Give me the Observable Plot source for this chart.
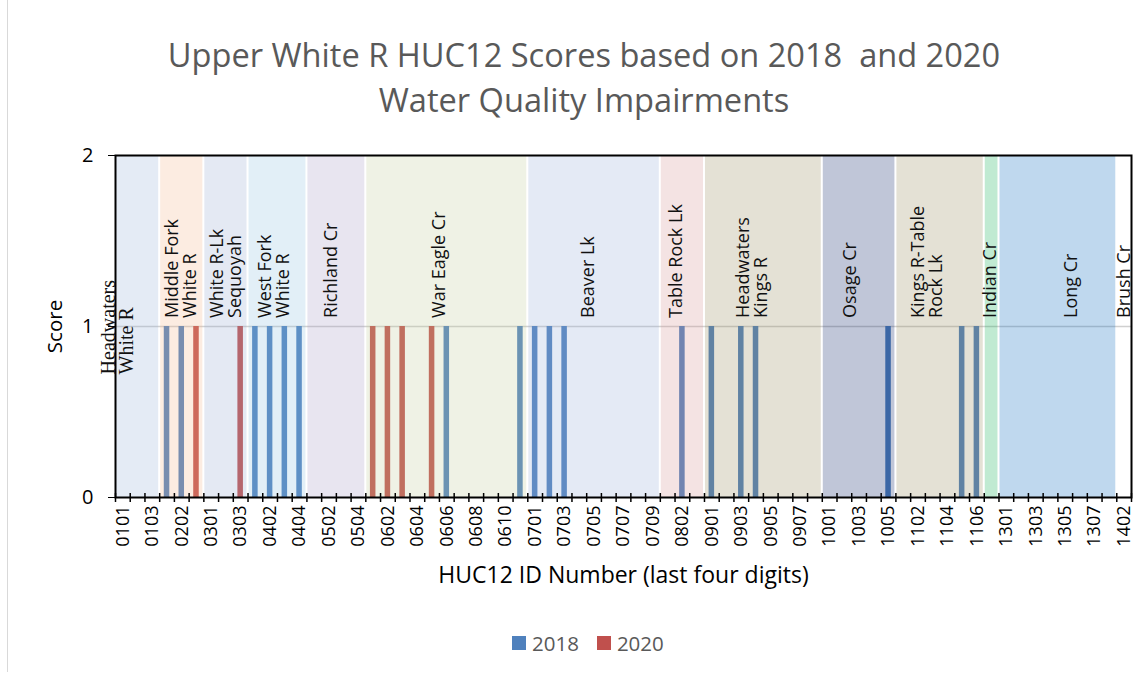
<!DOCTYPE html>
<html>
<head>
<meta charset="utf-8">
<script src="https://cdn.jsdelivr.net/npm/d3@7"></script>
<script src="https://cdn.jsdelivr.net/npm/@observablehq/plot@0.6"></script>
<style>
  body { margin: 0; background: #fff; font-family: "Open Sans", sans-serif; }
  #wrap { position: relative; width: 1148px; height: 677px; overflow: hidden; }
  #border { position: absolute; left: 7px; top: 0; height: 672px; border-left: 1px solid #d9d9d9; }
  #title { position: absolute; left: 10px; top: 32px; width: 1148px; text-align: center; font-size: 32.6px; line-height: 45px; color: #595959; white-space: pre; }
  #chart { position: absolute; left: 0; top: 125px; }
  #legend { position: absolute; left: 512px; top: 629px; display: flex; align-items: center; font-size: 20.5px; color: #595959; }
  #legend .sw { width: 14px; height: 14px; display: inline-block; margin-right: 6px; }
  #legend .item { display: flex; align-items: center; margin-right: 18px; line-height: 28px; }
</style>
</head>
<body>
<div id="wrap">
  <div id="border"></div>
  <div id="title"></div>
  <div id="chart"></div>
  <div id="legend"></div>
</div>
<script>
// ---- Data ----
const hucCodes = [
  "0101","0102","0103",
  "0201","0202","0203",
  "0301","0302","0303",
  "0401","0402","0403","0404",
  "0501","0502","0503","0504",
  "0601","0602","0603","0604","0605","0606","0607","0608","0609","0610","0611",
  "0701","0702","0703","0704","0705","0706","0707","0708","0709",
  "0801","0802","0803",
  "0901","0902","0903","0904","0905","0906","0907","0908",
  "1001","1002","1003","1004","1005",
  "1101","1102","1103","1104","1105","1106",
  "1201",
  "1301","1302","1303","1304","1305","1306","1307","1308",
  "1402"
];
const score2018 = [
  0,0,0,
  1,1,0,
  0,0,0,
  1,1,1,1,
  0,0,0,0,
  0,0,0,0,0,1,0,0,0,0,1,
  1,1,1,0,0,0,0,0,0,
  0,1,0,
  1,0,1,1,0,0,0,0,
  0,0,0,0,1,
  0,0,0,0,1,1,
  0,
  0,0,0,0,0,0,0,0,
  0
];
const score2020 = [
  0,0,0,
  0,0,1,
  0,0,1,
  0,0,0,0,
  0,0,0,0,
  1,1,1,0,1,0,0,0,0,0,0,
  0,0,0,0,0,0,0,0,0,
  0,0,0,
  0,0,0,0,0,0,0,0,
  0,0,0,0,0,
  0,0,0,0,0,0,
  0,
  0,0,0,0,0,0,0,0,
  0
];
const years = ["2018", "2020"];
const groupKeys = ["01","02","03","04","05","06","07","08","09","10","11","12","13","14"];
const groupLabels = [
  "Headwaters\nWhite R", "Middle Fork\nWhite R", "White R-Lk\nSequoyah", "West Fork\nWhite R",
  "Richland Cr", "War Eagle Cr", "Beaver Lk", "Table Rock Lk", "Headwaters\nKings R",
  "Osage Cr", "Kings R-Table\nRock Lk", "Indian Cr", "Long Cr", "Brush Cr"
];
// where each watershed label sits along the category axis (category-index units)
const labelAt = [0.17, 4.48, 7.53, 10.8, 14.66, 22.0, 32.1, 38.08, 43.25, 49.88, 55.13, 59.44, 64.9, 68.52];
const yTicks = [0, 1, 2];
const title = "Upper White R HUC12 Scores based on 2018  and 2020\nWater Quality Impairments";
const xTitle = "HUC12 ID Number (last four digits)";
const yTitle = "Score";

// ---- Styles ----
const yearColors = { "2018": "#4f81bd", "2020": "#c0504d" };
// apparent band colours (over white); drawn as 25% overlays
const bandColors = ["#e4ebf5","#fcece1","#e4e9f3","#e2eff7","#e8e5f0","#eff2e5","#e4eaf5","#f4e3e3","#e4e1d5","#c0c6d8","#e4e1d5","#c0ead2","#bed8ee", null];
const OVERLAY = 0.25;
function overlayColor(hex) {
  const c = d3.rgb(hex);
  const f = v => Math.max(0, Math.min(255, Math.round((v - (1 - OVERLAY) * 255) / OVERLAY)));
  return d3.rgb(f(c.r), f(c.g), f(c.b)).formatHex();
}

// ---- Build tables ----
const rows = hucCodes.map((code, i) => ({ code, i, group: code.slice(0, 2) }));
const bars = [];
rows.forEach(r => {
  if (score2018[r.i] > 0) bars.push({ i: r.i, score: score2018[r.i], year: years[0] });
  if (score2020[r.i] > 0) bars.push({ i: r.i, score: score2020[r.i], year: years[1] });
});
const groups = groupKeys.map((k, j) => {
  const idx = rows.filter(r => r.group === k).map(r => r.i);
  return { key: k, label: groupLabels[j], start: d3.min(idx), end: d3.max(idx) + 1, at: labelAt[j], color: bandColors[j] };
});
const n = hucCodes.length;
const labelTicks = d3.range(0, n, 2).map(i => i + 0.5);
const boundaries = d3.range(0, n + 1);

document.getElementById("title").textContent = title;

const chart = Plot.plot({
  width: 1148,
  height: 475,
  marginLeft: 115,
  marginRight: 17,
  marginTop: 30,
  marginBottom: 103,
  x: { type: "linear", domain: [0, n] },
  y: { domain: [0, 2] },
  color: { type: "identity" },
  style: { fontFamily: "Open Sans", background: "transparent", color: "black", overflow: "visible" },
  marks: [
    Plot.ruleY([1], { stroke: "#d0d0d0", strokeWidth: 1.5 }),
    Plot.rectY(bars, { x1: "i", x2: d => d.i + 1, y1: 0, y2: "score", fill: d => yearColors[d.year], insetLeft: 4.6, insetRight: 4.6 }),
    Plot.rect(groups.filter(g => g.color), { x1: "start", x2: "end", y1: 0, y2: 2, fill: d => overlayColor(d.color), fillOpacity: OVERLAY, insetLeft: 1, insetRight: 1 }),
    Plot.axisY({ ticks: yTicks, tickSize: 7, tickPadding: 15, fontSize: 20, label: null, tickFormat: d3.format("d") }),
    Plot.axisX({ ticks: labelTicks, tickFormat: v => hucCodes[Math.floor(v)], tickSize: 0, tickRotate: -90, tickPadding: 8, fontSize: 18, label: null }),
    Plot.ruleX(boundaries, { x: d => d, y1: 0, y2: 0, insetTop: -4, insetBottom: -5, stroke: "black", strokeWidth: 1.5 }),
    Plot.frame({ stroke: "black", strokeWidth: 2 }),
    Plot.text(groups.filter(g => g.key !== "01"), { x: "at", y: 1.05, text: "label", rotate: -90, textAnchor: "start", lineAnchor: "middle", lineHeight: 1.0, fontSize: 18, fill: "#111" }),
    Plot.text(groups.filter(g => g.key === "01"), { x: "at", y: 0.72, text: "label", rotate: -90, textAnchor: "start", lineAnchor: "middle", lineHeight: 0.9, fontSize: 20, fontFamily: "Liberation Serif", fill: "#111" }),
    Plot.text([yTitle], { frameAnchor: "left", y: 1, dx: -60, rotate: -90, textAnchor: "middle", lineAnchor: "middle", fontSize: 20.5, fill: "black" }),
    Plot.text([xTitle], { frameAnchor: "bottom", dy: 78, textAnchor: "middle", lineAnchor: "middle", fontSize: 23, fill: "black" })
  ]
});
document.getElementById("chart").appendChild(chart);

const legend = document.getElementById("legend");
years.forEach(y => {
  const item = document.createElement("div");
  item.className = "item";
  const sw = document.createElement("span");
  sw.className = "sw";
  sw.style.background = yearColors[y];
  const t = document.createElement("span");
  t.textContent = y;
  item.appendChild(sw);
  item.appendChild(t);
  legend.appendChild(item);
});
</script>
</body>
</html>
